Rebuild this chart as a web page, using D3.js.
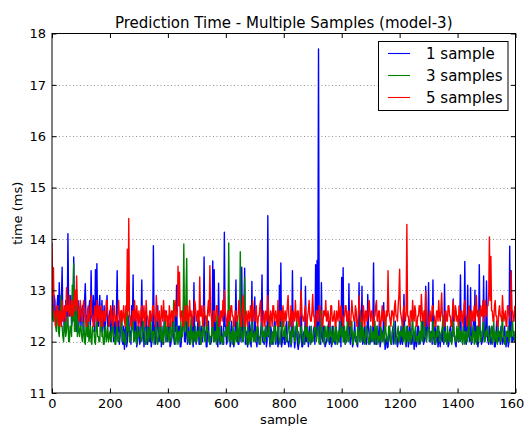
<!DOCTYPE html>
<html>
<head>
<meta charset="utf-8">
<script src="https://cdn.jsdelivr.net/npm/d3@7/dist/d3.min.js"></script>
<style>
  body { margin: 0; background: #fff; }
  svg { display: block; font-family: "DejaVu Sans", sans-serif; }
</style>
</head>
<body>
<div id="chart"></div>
<script>
// one value every 2.5 samples (one row = 100 samples)
var sampleStep = 2.5;

var oneSample = [
  13.0,12.5, 12.4,12.9, 12.8,12.3, 12.3,12.7, 12.9,12.4, 13.15,12.6, 12.5,12.8, 13.45,12.4, 12.6,12.2, 12.3,12.8, 12.7,12.3, 14.1,12.6, 12.5,12.8, 12.9,12.3, 12.4,12.7, 13.65,12.4, 12.6,12.9, 12.2,12.6, 12.8,12.3, 12.5,12.7,
  12.3,12.6, 12.7,12.2, 12.4,12.8, 13.13,12.4, 12.5,12.1, 12.2,12.6, 12.8,12.3, 13.38,12.5, 12.4,12.9, 12.6,12.2, 13.4,12.5, 13.52,12.3, 12.3,12.7, 12.9,12.2, 12.5,12.8, 12.2,12.4, 12.7,12.1, 12.4,12.6, 12.9,12.3, 12.3,12.5,
  12.6,12.1, 12.2,12.5, 12.8,12.0, 12.3,12.4, 12.0,12.6, 13.38,12.2, 12.4,11.95, 12.1,12.5, 12.6,12.0, 11.95,12.3, 11.85,12.2, 12.3,11.9, 12.0,12.4, 12.5,12.1, 12.2,11.95, 12.7,12.3, 13.3,12.0, 12.1,12.5, 12.4,11.9, 12.0,12.2,
  12.3,11.95, 12.0,12.4, 13.2,12.1, 12.4,11.9, 12.1,12.5, 12.6,12.0, 11.95,12.3, 12.2,12.0, 12.5,11.9, 12.0,12.2, 13.87,12.1, 12.3,11.95, 12.1,12.4, 12.7,12.0, 12.0,12.3, 12.4,11.9, 12.2,12.1, 11.95,12.5, 12.6,12.0, 12.1,12.3,
  12.0,12.4, 12.3,11.9, 11.95,12.1, 12.2,12.5, 12.1,11.95, 12.5,12.2, 13.1,12.0, 12.0,12.3, 12.3,11.9, 11.9,12.1, 12.2,12.4, 12.88,12.0, 12.0,12.2, 12.4,11.95, 12.1,12.3, 11.95,12.0, 12.3,12.5, 12.0,11.9, 13.15,12.1, 12.2,11.95,
  12.1,12.3, 12.5,11.95, 11.95,12.2, 12.3,12.0, 12.0,12.4, 13.65,12.1, 12.2,11.9, 11.9,12.3, 12.4,12.0, 12.1,11.95, 12.0,12.2, 13.57,12.1, 13.4,12.0, 12.2,12.4, 12.0,11.9, 13.14,12.2, 11.95,12.0, 12.3,12.1, 12.1,11.95, 14.13,12.3,
  12.3,11.95, 12.0,12.2, 12.2,12.4, 11.9,12.0, 12.4,12.1, 12.1,11.9, 12.0,12.3, 13.2,12.0, 12.2,11.95, 11.95,12.2, 12.3,12.0, 13.45,12.1, 12.0,12.4, 13.43,11.95, 12.1,12.2, 11.9,12.0, 12.4,12.3, 12.0,11.9, 13.17,12.1, 12.2,12.0,
  12.87,12.1, 12.0,11.9, 12.3,12.2, 11.95,12.0, 12.1,12.4, 13.3,12.0, 12.0,11.95, 12.2,12.3, 11.9,12.0, 14.45,12.1, 12.1,11.9, 12.3,12.2, 11.95,12.0, 12.0,12.4, 12.4,11.95, 12.1,12.2, 11.9,12.0, 13.1,12.3, 13.53,11.9, 12.0,12.1,
  12.2,11.95, 11.95,12.3, 12.4,12.0, 12.0,11.9, 12.1,12.2, 11.9,12.0, 13.38,12.1, 12.2,11.88, 12.0,12.3, 12.3,11.95, 11.85,12.0, 12.1,12.2, 13.25,11.9, 11.9,12.1, 12.2,11.95, 13.08,12.0, 12.0,12.3, 11.9,12.1, 12.3,11.95, 12.1,12.0,
  12.0,12.2, 12.3,11.95, 13.5,12.1, 13.58,12.2, 17.7,12.0, 12.2,11.95, 13.15,12.1, 12.0,12.3, 12.3,11.9, 11.95,12.0, 12.1,12.2, 12.4,11.95, 12.0,12.1, 11.9,12.3, 12.2,12.0, 12.0,11.95, 12.3,12.2, 11.95,12.0, 12.1,12.4, 12.2,11.9,
  13.25,12.1, 13.44,12.0, 12.1,11.95, 12.0,12.2, 12.3,12.0, 13.13,12.1, 11.95,12.3, 12.2,11.9, 12.0,12.1, 12.4,12.0, 12.1,11.95, 11.9,12.2, 13.15,12.0, 12.2,12.1, 13.08,11.95, 12.0,12.2, 12.3,12.0, 11.95,12.1, 12.92,12.3, 12.1,11.95,
  12.3,12.0, 12.0,12.2, 13.53,11.95, 12.2,12.1, 11.95,12.3, 12.1,12.0, 12.4,11.9, 12.0,12.2, 12.2,12.0, 12.76,12.1, 11.85,12.0, 12.1,11.88, 11.9,12.2, 12.3,12.0, 12.0,11.95, 12.2,12.3, 11.95,12.1, 12.4,12.0, 12.1,11.9, 12.0,12.2,
  12.1,11.95, 12.3,12.0, 11.95,12.2, 12.92,12.1, 12.0,11.9, 12.2,12.3, 11.9,12.0, 12.4,12.1, 12.0,11.95, 12.1,12.2, 11.85,12.0, 12.2,11.9, 12.0,12.3, 12.3,12.1, 11.95,12.0, 12.1,12.2, 12.4,11.95, 12.0,12.1, 13.08,12.0, 12.2,12.3,
  13.15,12.0, 12.0,12.1, 12.2,11.95, 13.2,12.1, 11.95,12.3, 12.1,12.0, 12.3,11.9, 12.0,12.2, 11.9,12.1, 12.2,12.0, 12.4,11.95, 13.12,12.2, 12.0,12.1, 12.1,11.9, 11.95,12.2, 12.3,12.0, 12.0,12.3, 12.83,12.1, 12.1,11.95, 11.9,12.2,
  12.2,12.0, 12.0,12.3, 13.3,12.1, 12.1,11.95, 12.3,12.2, 13.56,12.0, 11.95,12.3, 13.1,12.1, 12.2,12.0, 13.05,11.95, 12.0,12.2, 12.4,12.1, 13.0,12.0, 12.1,12.3, 11.9,12.0, 13.5,12.2, 12.2,11.95, 12.0,12.1, 13.28,12.0, 12.1,12.3,
  13.18,12.1, 12.0,11.95, 12.3,12.2, 11.95,12.0, 12.1,12.3, 12.2,11.9, 11.9,12.1, 12.4,12.0, 12.0,12.2, 12.1,11.95, 12.3,12.1, 11.95,12.0, 12.2,12.3, 12.0,11.9, 12.1,12.2, 11.9,12.0, 13.86,12.1, 13.38,12.0, 12.0,12.1, 12.05,12.0
];

var threeSamples = [
  12.7,12.5, 12.4,12.6, 12.5,12.3, 12.2,12.5, 12.6,12.2, 12.1,12.4, 12.9,12.3, 12.3,12.1, 12.0,12.3, 12.4,12.1, 12.2,12.4, 12.5,12.0, 12.0,12.3, 12.3,12.1, 13.1,12.4, 13.52,12.2, 12.2,12.5, 13.0,12.1, 12.4,12.2, 12.1,12.3,
  12.3,12.1, 12.0,12.2, 12.4,12.0, 11.95,12.3, 12.2,12.1, 12.5,12.0, 12.1,12.3, 12.0,11.95, 12.3,12.2, 12.2,12.0, 11.95,12.3, 12.4,12.1, 12.1,12.0, 12.0,12.4, 12.6,12.1, 12.2,11.95, 11.95,12.2, 12.3,12.0, 12.1,12.3, 12.0,12.1,
  12.2,12.0, 12.0,12.3, 12.4,12.1, 12.1,11.95, 11.95,12.2, 12.3,12.0, 12.0,12.1, 12.2,12.4, 12.5,12.0, 12.0,12.2, 12.1,11.95, 11.95,12.3, 13.1,12.2, 12.3,12.0, 12.0,12.1, 12.2,12.3, 12.4,12.0, 12.1,12.2, 12.0,11.95, 12.3,12.1,
  12.1,12.2, 12.3,12.0, 12.0,12.1, 12.4,12.2, 12.2,11.95, 11.95,12.1, 12.3,12.0, 12.1,12.3, 12.5,12.1, 12.0,12.2, 12.2,11.95, 12.1,12.3, 12.4,12.0, 11.95,12.1, 12.2,12.4, 12.0,12.1, 12.3,11.95, 12.1,12.2, 12.5,12.0, 12.0,12.3,
  12.2,12.1, 12.0,12.3, 12.4,12.0, 12.1,12.2, 12.8,12.1, 12.0,11.95, 12.3,12.1, 11.95,12.2, 12.2,12.0, 12.4,12.1, 12.1,12.3, 13.9,12.2, 12.3,12.9, 13.62,12.1, 12.0,12.2, 12.2,11.95, 12.5,12.1, 11.95,12.2, 12.1,12.0, 12.3,12.1,
  12.0,12.2, 12.2,12.1, 12.4,11.95, 11.95,12.2, 12.1,12.3, 12.3,12.0, 12.0,12.1, 12.5,12.2, 12.2,12.0, 11.95,12.1, 12.1,12.3, 12.4,12.0, 12.0,12.2, 12.2,11.95, 12.6,12.1, 12.0,12.3, 12.3,12.0, 12.1,11.95, 11.95,12.2, 12.2,12.1,
  12.1,12.3, 12.4,12.0, 13.92,12.2, 12.0,12.1, 12.2,11.95, 12.3,12.1, 11.95,12.2, 12.1,12.0, 12.5,12.2, 12.0,12.3, 13.75,12.1, 12.2,12.0, 12.0,12.4, 13.25,12.1, 12.1,11.95, 12.3,12.2, 11.95,12.1, 12.2,12.0, 12.4,12.2, 12.0,12.1,
  12.2,12.0, 12.0,12.3, 12.3,12.1, 12.1,11.95, 11.95,12.2, 12.4,12.1, 12.2,12.0, 12.0,12.3, 12.3,12.1, 12.1,12.2, 12.5,12.0, 12.0,11.95, 12.2,12.1, 11.95,12.3, 12.3,12.0, 12.1,12.2, 12.4,12.1, 12.0,11.95, 12.2,12.3, 12.6,12.1,
  12.1,12.2, 12.3,12.0, 12.0,12.1, 12.2,12.4, 12.4,12.0, 11.95,12.2, 12.1,12.3, 12.3,12.0, 12.0,12.1, 12.5,12.2, 12.2,11.95, 12.0,12.1, 12.3,12.2, 12.1,12.0, 11.95,12.3, 12.2,12.1, 12.4,12.0, 12.0,12.2, 12.1,11.95, 12.3,12.1,
  12.0,12.1, 12.2,12.3, 12.4,12.0, 12.1,12.2, 12.3,11.95, 12.0,12.1, 12.6,12.2, 12.2,12.0, 11.95,12.3, 12.1,12.1, 12.3,12.0, 12.0,12.2, 12.4,12.1, 12.2,11.95, 12.0,12.3, 12.1,12.0, 12.3,12.2, 11.95,12.1, 12.2,12.0, 12.4,12.2,
  12.1,12.3, 12.0,12.1, 12.3,11.95, 12.2,12.0, 12.5,12.2, 12.0,12.1, 12.1,12.3, 12.4,12.0, 11.95,12.2, 12.2,12.1, 12.0,11.95, 12.3,12.2, 12.1,12.0, 12.6,12.1, 12.0,12.3, 12.2,12.0, 11.95,12.2, 12.3,12.1, 12.1,11.95, 12.0,12.2,
  12.3,12.0, 12.1,12.2, 12.0,12.1, 12.4,11.95, 12.2,12.3, 11.95,12.1, 12.1,12.0, 12.3,12.2, 12.0,12.1, 12.2,11.95, 12.5,12.2, 12.1,12.0, 12.0,12.3, 12.3,12.1, 11.95,12.0, 12.2,12.2, 12.4,12.1, 12.0,11.95, 12.1,12.2, 12.3,12.0,
  12.0,12.2, 12.2,12.1, 12.4,12.0, 12.1,12.3, 11.95,12.1, 12.3,12.0, 12.0,12.2, 12.2,11.95, 12.1,12.3, 12.5,12.1, 12.0,12.2, 12.3,12.0, 12.1,12.1, 11.95,12.2, 12.2,12.0, 12.4,12.1, 12.0,12.3, 12.6,12.1, 12.1,12.0, 12.2,12.2,
  12.3,12.1, 12.0,12.2, 12.1,12.0, 12.4,12.1, 12.2,11.95, 11.95,12.2, 12.1,12.3, 12.3,12.0, 12.0,12.1, 12.2,12.3, 12.5,12.0, 12.0,12.2, 12.1,11.95, 12.3,12.1, 12.0,12.2, 12.2,12.0, 11.95,12.1, 12.4,12.2, 12.1,12.0, 12.0,12.3,
  12.2,12.0, 12.4,12.1, 12.0,12.2, 12.1,11.95, 12.3,12.1, 11.95,12.2, 12.2,12.0, 12.0,12.3, 12.5,12.1, 12.1,12.0, 12.0,12.2, 12.3,11.95, 12.2,12.1, 11.95,12.3, 12.1,12.0, 12.6,12.2, 12.0,12.1, 12.2,12.3, 12.4,12.0, 12.0,12.2,
  12.1,12.2, 12.3,12.0, 12.0,12.1, 12.2,12.3, 11.95,12.1, 12.4,12.0, 12.1,12.2, 12.0,11.95, 12.3,12.1, 12.2,12.0, 12.0,12.3, 12.5,12.1, 12.1,11.95, 11.95,12.2, 12.2,12.1, 12.3,12.0, 12.0,12.2, 12.1,12.3, 12.4,12.1, 12.2,12.0
];

var fiveSamples = [
  13.93,12.9, 13.44,12.5, 12.6,12.3, 12.4,12.7, 12.7,12.4, 12.3,12.6, 12.5,12.3, 12.8,12.5, 12.4,12.7, 12.6,12.4, 13.05,12.6, 12.7,12.5, 12.9,12.6, 12.5,12.8, 12.8,12.5, 12.6,12.9, 13.0,12.6, 13.28,12.7, 12.7,12.4, 12.5,12.8,
  12.6,12.4, 12.4,12.7, 12.8,12.5, 12.5,12.3, 12.3,12.6, 12.7,12.4, 12.4,12.6, 12.9,12.5, 12.5,12.3, 12.3,12.7, 12.6,12.4, 12.8,12.5, 12.4,12.7, 12.5,12.3, 12.7,12.5, 12.3,12.6, 12.6,12.4, 12.4,12.8, 12.8,12.5, 12.5,12.3,
  12.4,12.7, 12.6,12.4, 12.3,12.6, 12.7,12.4, 12.5,12.3, 12.4,12.6, 12.8,12.5, 12.3,12.6, 12.6,12.4, 12.5,12.7, 12.4,12.3, 12.7,12.5, 13.8,12.6, 14.4,12.5, 12.5,12.3, 12.3,12.6, 12.6,12.4, 12.8,12.5, 12.4,12.7, 12.5,12.3,
  12.6,12.4, 12.3,12.6, 12.7,12.4, 12.5,12.7, 12.4,12.3, 12.8,12.5, 12.5,12.3, 12.3,12.6, 12.6,12.4, 12.4,12.7, 12.7,12.5, 12.5,12.3, 12.9,12.6, 12.4,12.5, 12.6,12.3, 12.3,12.7, 12.5,12.4, 12.8,12.5, 12.4,12.6, 12.6,12.3,
  12.5,12.3, 12.7,12.5, 12.3,12.6, 12.6,12.4, 12.4,12.7, 12.8,12.5, 12.5,12.6, 13.47,12.7, 13.35,12.5, 12.4,12.6, 12.6,12.3, 12.3,12.5, 12.7,12.4, 12.5,12.7, 12.4,12.3, 12.8,12.5, 12.6,12.4, 12.3,12.6, 12.5,12.8, 12.7,12.4,
  12.4,12.6, 12.6,12.3, 13.26,12.5, 12.5,12.7, 12.3,12.4, 12.7,12.5, 12.5,12.3, 12.4,12.6, 12.8,12.5, 13.48,12.6, 12.5,12.3, 12.3,12.6, 12.6,12.4, 12.4,12.7, 12.7,12.5, 12.5,12.3, 12.3,12.6, 12.6,12.4, 12.8,12.5, 13.0,12.6,
  12.5,12.4, 12.3,12.6, 12.6,12.4, 12.4,12.7, 12.7,12.5, 12.5,12.3, 12.3,12.6, 12.6,12.4, 12.4,12.5, 12.8,12.6, 12.5,12.3, 12.3,12.7, 12.9,12.5, 12.4,12.3, 12.6,12.5, 12.3,12.6, 12.5,12.4, 12.7,12.5, 12.4,12.8, 12.6,12.4,
  12.4,12.6, 12.7,12.4, 12.3,12.5, 12.5,12.7, 12.8,12.4, 12.4,12.3, 12.6,12.5, 12.3,12.6, 12.5,12.4, 12.9,12.6, 12.4,12.3, 12.6,12.5, 12.3,12.7, 12.7,12.4, 12.5,12.6, 12.4,12.3, 12.8,12.5, 12.3,12.6, 12.6,12.4, 12.5,12.7,
  12.3,12.5, 12.6,12.4, 12.5,12.7, 12.9,12.5, 12.4,12.3, 12.7,12.5, 12.3,12.6, 12.5,12.4, 12.8,12.5, 12.4,12.6, 12.6,12.3, 12.3,12.7, 13.0,12.5, 12.5,12.4, 12.4,12.6, 12.7,12.3, 12.3,12.5, 12.6,12.8, 12.5,12.4, 12.4,12.6,
  12.92,12.5, 12.5,12.3, 12.3,12.6, 12.6,12.4, 12.4,12.7, 12.7,12.5, 12.5,12.3, 12.3,12.6, 12.6,12.5, 12.8,12.4, 12.4,12.6, 12.5,12.3, 12.3,12.7, 12.7,12.4, 12.4,12.5, 12.6,12.3, 12.3,12.6, 12.5,12.4, 12.8,12.5, 12.4,12.7,
  12.6,12.4, 12.3,12.5, 12.5,12.7, 12.7,12.4, 12.4,12.6, 12.6,12.3, 12.3,12.5, 12.8,12.6, 12.5,12.4, 12.4,12.7, 12.6,12.3, 12.3,12.5, 12.9,12.6, 12.5,12.4, 12.4,12.3, 12.7,12.5, 12.3,12.6, 12.6,12.4, 12.5,12.7, 12.8,12.5,
  12.4,12.6, 12.6,12.3, 12.3,12.5, 12.5,12.7, 12.8,12.4, 12.4,12.6, 12.6,12.3, 12.3,12.5, 12.7,12.4, 12.5,12.6, 12.4,12.3, 12.6,12.5, 13.38,12.6, 12.5,12.4, 12.3,12.6, 12.6,12.5, 12.4,12.7, 12.8,12.5, 12.5,12.4, 12.7,12.9,
  13.41,12.6, 12.5,12.4, 12.3,12.6, 12.7,12.5, 12.4,12.6, 14.28,12.5, 12.5,12.3, 12.3,12.6, 12.6,12.4, 12.8,12.5, 12.4,12.7, 12.6,12.3, 12.3,12.5, 12.5,12.7, 12.7,12.4, 12.92,12.6, 12.4,12.5, 12.6,12.3, 12.98,12.6, 12.5,12.4,
  12.3,12.5, 12.6,12.4, 12.4,12.7, 12.7,12.5, 12.5,12.3, 12.3,12.6, 12.6,12.4, 12.8,12.5, 12.4,12.6, 12.95,12.5, 12.5,12.3, 12.3,12.6, 12.6,12.4, 12.4,12.7, 12.7,12.5, 12.5,12.3, 12.3,12.6, 12.8,12.5, 12.4,12.7, 12.6,12.4,
  12.5,12.3, 12.7,12.5, 12.4,12.6, 12.6,12.4, 12.3,12.7, 12.8,12.5, 12.5,12.3, 12.4,12.6, 12.7,12.5, 12.3,12.6, 12.6,12.4, 12.5,12.7, 12.4,12.6, 12.9,12.5, 12.6,12.4, 12.3,12.6, 12.7,12.5, 12.5,12.8, 12.4,12.6, 12.8,12.5,
  12.5,12.7, 12.7,12.9, 14.04,12.8, 13.66,12.6, 12.6,12.4, 12.4,12.7, 12.8,12.5, 12.5,12.3, 12.3,12.6, 12.7,12.5, 12.5,12.4, 12.9,12.6, 12.4,12.5, 12.6,12.3, 12.3,12.7, 12.7,12.5, 12.5,12.4, 13.37,12.6, 12.6,12.4, 12.4,12.7
];

var seriesNames = ["1 sample", "3 samples", "5 samples"];
var seriesColors = ["#0000ff", "#008000", "#ff0000"];
var xTicks = [0, 200, 400, 600, 800, 1000, 1200, 1400, 1600];
var yTicks = [11, 12, 13, 14, 15, 16, 17, 18];

var width = 524,
  height = 426,
  margin = { top: 33.5, right: 8.5, bottom: 33, left: 52 };

var x = d3.scaleLinear().domain([0, 1600]).range([margin.left, width - margin.right]);
var y = d3.scaleLinear().domain([11, 18]).range([height - margin.bottom, margin.top]);
var fmt = d3.format("d");

var svg = d3
  .select("#chart")
  .append("svg")
  .attr("width", width)
  .attr("height", height);

svg.append("defs")
  .append("clipPath")
  .attr("id", "plot-clip")
  .append("rect")
  .attr("x", margin.left)
  .attr("y", margin.top)
  .attr("width", width - margin.left - margin.right)
  .attr("height", height - margin.top - margin.bottom);

// dotted horizontal grid
svg.append("g")
  .attr("class", "grid")
  .selectAll("line")
  .data(yTicks.slice(1, -1))
  .enter()
  .append("line")
  .attr("x1", margin.left)
  .attr("x2", width - margin.right)
  .attr("y1", function(d) { return Math.round(y(d)) + 0.5; })
  .attr("y2", function(d) { return Math.round(y(d)) + 0.5; })
  .style("stroke", "#777")
  .style("stroke-width", 0.8)
  .style("stroke-dasharray", "1,2.5");

var line = d3
  .line()
  .x(function(d, i) { return x(i * sampleStep); })
  .y(function(d) { return y(d); });

svg.append("g")
  .attr("clip-path", "url(#plot-clip)")
  .selectAll("path")
  .data([oneSample, threeSamples, fiveSamples])
  .enter()
  .append("path")
  .attr("d", line)
  .style("fill", "none")
  .style("stroke", function(d, i) { return seriesColors[i]; })
  .style("stroke-width", 1.4)
  .style("stroke-linejoin", "round");

// axes: ticks inside on all four sides
var tickSize = 4.5;
svg.append("g")
  .attr("transform", "translate(0," + y(11) + ")")
  .call(d3.axisBottom(x).tickValues(xTicks).tickFormat(fmt).tickSizeInner(-tickSize).tickSizeOuter(0).tickPadding(6))
  .call(function(g) { g.select(".domain").remove(); });
svg.append("g")
  .attr("transform", "translate(0," + y(18) + ")")
  .call(d3.axisTop(x).tickValues(xTicks).tickSizeInner(-tickSize).tickSizeOuter(0).tickFormat(""))
  .call(function(g) { g.select(".domain").remove(); });
svg.append("g")
  .attr("transform", "translate(" + x(0) + ",0)")
  .call(d3.axisLeft(y).tickValues(yTicks).tickFormat(fmt).tickSizeInner(-tickSize).tickSizeOuter(0).tickPadding(6))
  .call(function(g) { g.select(".domain").remove(); });
svg.append("g")
  .attr("transform", "translate(" + x(1600) + ",0)")
  .call(d3.axisRight(y).tickValues(yTicks).tickSizeInner(-tickSize).tickSizeOuter(0).tickFormat(""))
  .call(function(g) { g.select(".domain").remove(); });

svg.selectAll(".tick text")
  .style("font-family", "DejaVu Sans")
  .style("font-size", "13px")
  .style("fill", "#000");
svg.selectAll(".tick line").style("stroke", "#000");

// frame
svg.append("rect")
  .attr("x", x(0))
  .attr("y", y(18))
  .attr("width", x(1600) - x(0))
  .attr("height", y(11) - y(18))
  .style("fill", "none")
  .style("stroke", "#000")
  .style("stroke-width", 1);

svg.append("text")
  .attr("x", (x(0) + x(1600)) / 2)
  .attr("y", 28)
  .attr("text-anchor", "middle")
  .style("font-size", "15px")
  .text("Prediction Time - Multiple Samples (model-3)");

svg.append("text")
  .attr("x", (x(0) + x(1600)) / 2)
  .attr("y", 424)
  .attr("text-anchor", "middle")
  .style("font-size", "13px")
  .text("sample");

svg.append("text")
  .attr("transform", "translate(22," + (y(11) + y(18)) / 2 + ") rotate(-90)")
  .attr("text-anchor", "middle")
  .style("font-size", "13px")
  .text("time (ms)");

// legend
var legend = svg.append("g").attr("class", "legend");
legend.append("rect")
  .attr("x", 378.5)
  .attr("y", 41.5)
  .attr("width", 129.5)
  .attr("height", 69)
  .style("fill", "#fff")
  .style("stroke", "#000")
  .style("stroke-width", 1);

var items = legend
  .selectAll("g.item")
  .data(seriesNames)
  .enter()
  .append("g")
  .attr("class", "item")
  .attr("transform", function(d, i) { return "translate(388," + (53.5 + i * 22) + ")"; });

items.append("line")
  .attr("x1", 0)
  .attr("x2", 22)
  .style("stroke", function(d, i) { return seriesColors[i]; })
  .style("stroke-width", 1.1);

items.append("text")
  .attr("x", 38)
  .attr("dy", "0.35em")
  .style("font-size", "15px")
  .text(function(d) { return d; });
</script>
</body>
</html>
